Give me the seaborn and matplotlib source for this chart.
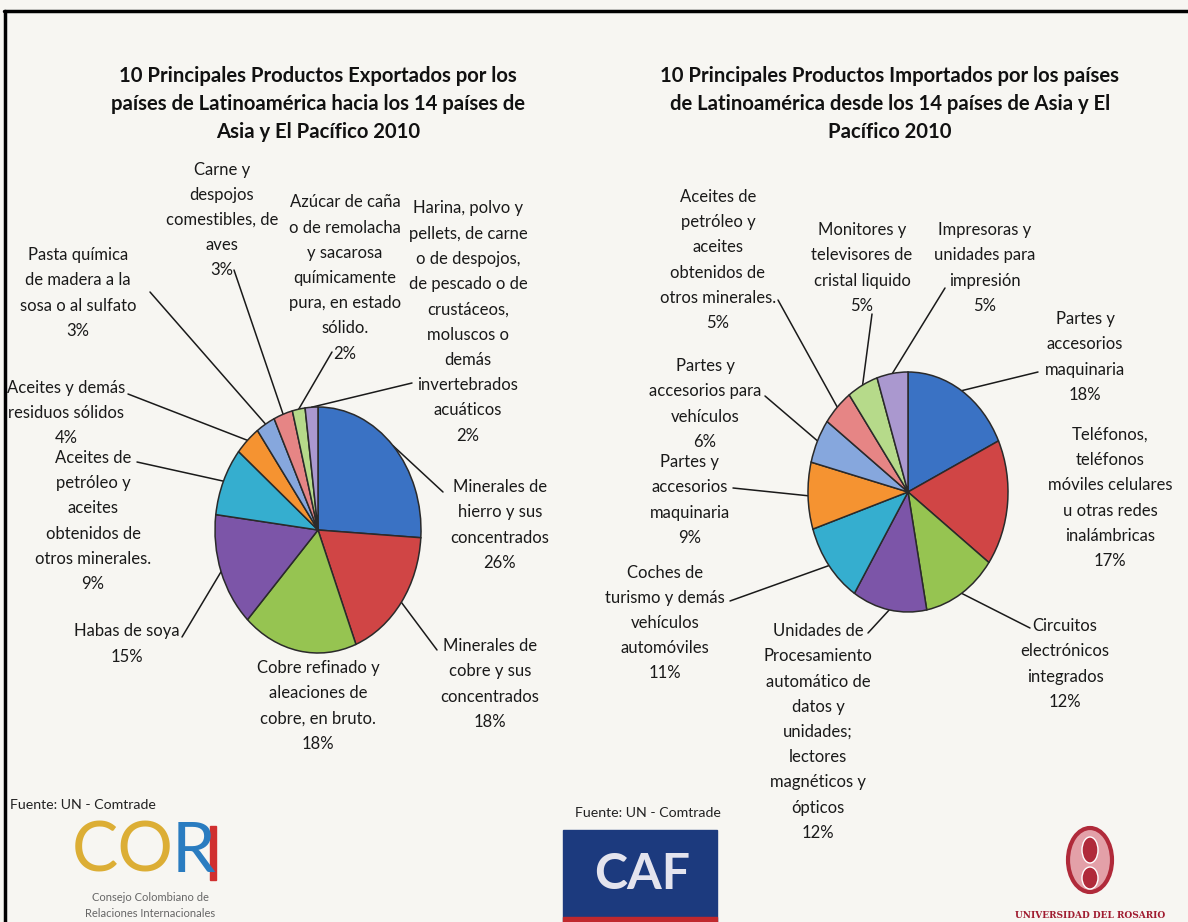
import numpy as np
import pandas as pd
import matplotlib.pyplot as plt
import seaborn as sns
from matplotlib.patches import Rectangle, Ellipse
from matplotlib.lines import Line2D

sns.set_theme(style="white")
plt.rcParams['font.family'] = ['Lato', 'DejaVu Sans']

# datos - exportaciones
exp_labels = [
    "Minerales de\nhierro y sus\nconcentrados",
    "Minerales de\ncobre y sus\nconcentrados",
    "Cobre refinado y\naleaciones de\ncobre, en bruto.",
    "Habas de soya",
    "Aceites de\npetróleo y\naceites\nobtenidos de\notros minerales.",
    "Aceites y demás\nresiduos sólidos",
    "Pasta química\nde madera a la\nsosa o al sulfato",
    "Carne y\ndespojos\ncomestibles, de\naves",
    "Azúcar de caña\no de remolacha\ny sacarosa\nquímicamente\npura, en estado\nsólido.",
    "Harina, polvo y\npellets, de carne\no de despojos,\nde pescado o de\ncrustáceos,\nmoluscos o\ndemás\ninvertebrados\nacuáticos",
]
exp_values = [26, 18, 18, 15, 9, 4, 3, 3, 2, 2]

# datos - importaciones
imp_labels = [
    "Partes y\naccesorios\nmaquinaria",
    "Teléfonos,\nteléfonos\nmóviles celulares\nu otras redes\ninalámbricas",
    "Circuitos\nelectrónicos\nintegrados",
    "Unidades de\nProcesamiento\nautomático de\ndatos y\nunidades;\nlectores\nmagnéticos y\nópticos",
    "Coches de\nturismo y demás\nvehículos\nautomóviles",
    "Partes y\naccesorios\nmaquinaria",
    "Partes y\naccesorios para\nvehículos",
    "Aceites de\npetróleo y\naceites\nobtenidos de\notros minerales.",
    "Monitores y\ntelevisores de\ncristal liquido",
    "Impresoras y\nunidades para\nimpresión",
]
imp_values = [18, 17, 12, 12, 11, 9, 6, 5, 5, 5]

exp_title = "10 Principales Productos Exportados por los\npaíses de Latinoamérica hacia los 14 países de\nAsia y El Pacífico 2010"
imp_title = "10 Principales Productos Importados por los países\nde Latinoamérica desde los 14 países de Asia y El\nPacífico 2010"

colores = ["#3a72c4", "#d04545", "#96c451", "#7c55a8", "#35aecf",
           "#f59331", "#86a7dd", "#e68585", "#b6da8a", "#aa98cf"]

W, H = 1188, 922
BG = "#f7f6f2"
fig = plt.figure(figsize=(W / 100, H / 100), dpi=100, facecolor=BG)
bg = fig.add_axes([0, 0, 1, 1])
bg.set_xlim(0, W)
bg.set_ylim(H, 0)
bg.axis('off')
bg.patch.set_alpha(0)

# layout: (centro x, centro y, inicio linea x, inicio linea y)
exp_pos = [(500, 525, 443, 492), (490, 684, 437, 650), (318, 706, None, None),
           (127, 644, 182, 637), (93, 521, 137, 462), (66, 413, 128, 394),
           (78, 293, 150, 292), (222, 220, 234, 270), (345, 278, 332, 352),
           (468, 322, 412, 383)]
imp_pos = [(1085, 357, 1038, 372), (1110, 498, None, None), (1065, 664, 1030, 628),
           (818, 732, 868, 633), (665, 623, 730, 601), (690, 500, 733, 488),
           (705, 404, 765, 396), (718, 260, 778, 300), (862, 268, 872, 314),
           (985, 268, 945, 288)]


def pastel(values, labels, pos, cx, cy, rx, ry):
    ax = fig.add_axes([(cx - rx) / W, 1 - (cy + ry) / H, 2 * rx / W, 2 * ry / H])
    ax.pie(values, colors=colores, startangle=90, counterclock=False,
           wedgeprops=dict(edgecolor="#2a2a2a", linewidth=1.1))
    ax.set_xlim(-1, 1)
    ax.set_ylim(-1, 1)
    ax.set_aspect('auto')
    ax.axis('off')
    cum = np.cumsum(values) - np.array(values) / 2
    for v, lab, c, (tx, ty, lx, ly) in zip(values, labels, cum, pos):
        th = 2 * np.pi * c / sum(values)
        px = cx + rx * np.sin(th)
        py = cy - ry * np.cos(th)
        bg.text(tx, ty, f"{lab}\n{v}%", ha='center', va='center', fontsize=12,
                linespacing=1.71, color="#1a1a1a")
        if lx is not None:
            bg.plot([lx, px], [ly, py], color="#1a1a1a", lw=1.1)


pastel(exp_values, exp_labels, exp_pos, 318, 530, 103, 123)
pastel(imp_values, imp_labels, imp_pos, 908, 492, 100, 120)

bg.text(318, 104, exp_title, ha='center', va='center', fontsize=14.6,
        fontweight='bold', linespacing=1.53, color="#111111")
bg.text(890, 104, imp_title, ha='center', va='center', fontsize=14.6,
        fontweight='bold', linespacing=1.53, color="#111111")

# fuentes
bg.text(10, 805, "Fuente: UN - Comtrade", ha='left', va='center', fontsize=10.2, color="#222222")
bg.text(648, 813, "Fuente: UN - Comtrade", ha='center', va='center', fontsize=10.2, color="#222222")

# logo CORI
bg.text(72, 852, "CO", ha='left', va='center', fontsize=50, color="#dcae35")
bg.text(172, 852, "R", ha='left', va='center', fontsize=50, color="#2a7cc0")
bg.add_patch(Rectangle((210, 826), 6, 54, color="#d03030"))
bg.text(150, 897, "Consejo Colombiano de", ha='center', va='center', fontsize=8, color="#666666")
bg.text(150, 913, "Relaciones Internacionales", ha='center', va='center', fontsize=8, color="#666666")

# logo CAF
bg.add_patch(Rectangle((563, 830), 154, 92, color="#1c3a7e"))
bg.add_patch(Rectangle((563, 917), 154, 5, color="#c0282d"))
bg.text(642, 874, "CAF", ha='center', va='center', fontsize=36, fontweight='bold', color="#e4e4ee")

# logo Universidad del Rosario
bg.add_patch(Ellipse((1090, 860), 44, 64, facecolor="#e3a0a8", edgecolor="#b02a3a", lw=3))
bg.add_patch(Ellipse((1090, 850), 16, 26, facecolor="#b02a3a"))
bg.add_patch(Ellipse((1090, 878), 16, 22, facecolor="#b02a3a"))
bg.text(1090, 915, "UNIVERSIDAD DEL ROSARIO", ha='center', va='center', fontsize=6.5,
        family=['DejaVu Serif'], fontweight='bold', color="#a01c30")

# marco
fig.add_artist(Line2D([4 / W, 1], [1 - 11 / H, 1 - 11 / H], color='black', lw=2.5))
fig.add_artist(Line2D([5 / W, 5 / W], [0, 1 - 11 / H], color='black', lw=2.5))

fig.savefig("out.png", dpi=100, facecolor=BG)
